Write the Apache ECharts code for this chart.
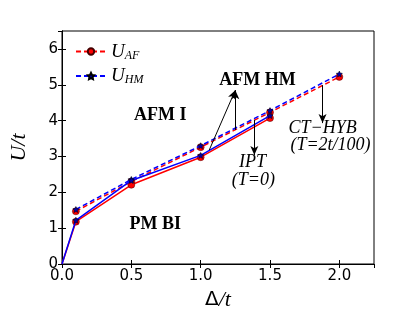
<!DOCTYPE html>
<html><head><meta charset="utf-8">
<script src="https://cdn.jsdelivr.net/npm/echarts@6/dist/echarts.min.js"></script>
<style>html,body{margin:0;padding:0;background:#fff}#c{width:415px;height:312px}</style>
</head><body><div id="c"></div>
<script>
const deltaIPT = [0, 0.1, 0.5, 1.0, 1.5];
const uAF_IPT = [0, 1.18, 2.21, 2.98, 4.07];
const uHM_IPT = [0, 1.22, 2.33, 3.03, 4.14];
const deltaCT = [0.1, 0.5, 1.0, 1.5, 2.0];
const uAF_CT = [1.47, 2.30, 3.26, 4.23, 5.22];
const uHM_CT = [1.52, 2.36, 3.30, 4.28, 5.30];
const xTicks = [0, 0.5, 1.0, 1.5, 2.0];
const yTicks = [0, 1, 2, 3, 4, 5, 6];

const STAR = 'path://M0,-10 L2.9,-4 9.5,-3.1 4.8,1.5 5.9,8.1 0,5 -5.9,8.1 -4.8,1.5 -9.5,-3.1 -2.9,-4 Z';
const zip = (xs, ys) => xs.map((x, i) => [x, ys[i]]);
const serif = 'Liberation Serif';

function label(text, x, y, bold, size) {
  return {
    coord: [x, y], symbolSize: 0,
    label: { show: true, position: 'inside', formatter: text, color: '#000',
      fontFamily: serif, fontSize: size || 17, fontWeight: bold ? 'bold' : 'normal',
      fontStyle: bold ? 'normal' : 'italic' }
  };
}
function arrow(x1, y1, x2, y2) { return [{ coord: [x1, y1] }, { coord: [x2, y2] }]; }

const chart = echarts.init(document.getElementById('c'));
const axisCommon = {
  axisLine: { lineStyle: { color: '#000', width: 1 } },
  axisTick: { inside: true, length: 4, lineStyle: { color: '#000' } },
  splitLine: { show: false }
};
chart.setOption({
  animation: false,
  grid: { left: 62, right: 41, top: 31, bottom: 48, show: true, borderColor: '#000', borderWidth: 1,
    containLabel: false, outerBoundsMode: 'none' },
  legend: {
    data: ['U_AF', 'U_HM'], orient: 'vertical', left: 70, top: 37,
    itemWidth: 30, itemHeight: 8, itemGap: 5,
    formatter: n => n === 'U_AF' ? '{u|U}{s|AF}' : '{u|U}{s|HM}',
    textStyle: { rich: {
      u: { fontFamily: serif, fontStyle: 'italic', fontSize: 19, color: '#000' },
      s: { fontFamily: serif, fontStyle: 'italic', fontSize: 12, color: '#000', verticalAlign: 'bottom', padding: [8, 0, 0, 0] }
    } }
  },
  xAxis: [
    Object.assign({ type: 'value', min: 0, max: 2.25, interval: 0.5, position: 'bottom',
      name: '{d|Δ}{t|/t}', nameLocation: 'middle', nameGap: 25,
      nameTextStyle: { rich: {
        d: { fontFamily: 'DejaVu Sans', fontSize: 20, color: '#000' },
        t: { fontFamily: serif, fontStyle: 'italic', fontSize: 22, color: '#000' } } },
      axisLabel: { showMaxLabel: false, margin: 5, color: '#000', fontFamily: 'DejaVu Sans', fontSize: 15,
        formatter: v => xTicks.includes(v) ? v.toFixed(1) : '' } }, axisCommon),
    Object.assign({ type: 'value', min: 0, max: 2.25, interval: 0.5, position: 'top', axisLabel: { show: false } }, axisCommon)
  ],
  yAxis: [
    Object.assign({ type: 'value', min: 0, max: 6.5, interval: 1, position: 'left',
      name: 'U/t', nameLocation: 'middle', nameGap: 32, nameRotate: 90,
      nameTextStyle: { fontFamily: serif, fontStyle: 'italic', fontSize: 22, color: '#000' },
      axisLabel: { showMaxLabel: false, margin: 4, color: '#000', fontFamily: 'DejaVu Sans', fontSize: 15,
        formatter: v => yTicks.includes(v) ? String(v) : '' } }, axisCommon),
    Object.assign({ type: 'value', min: 0, max: 6.5, interval: 1, position: 'right', axisLabel: { show: false } }, axisCommon)
  ],
  series: [
    { name: 'U_AF', type: 'line', data: zip(deltaCT, uAF_CT), symbol: 'circle', symbolSize: 7,
      lineStyle: { color: '#ff0000', width: 1.5, type: [5, 3] },
      itemStyle: { color: '#ff0000', borderColor: '#400', borderWidth: 0.5 }, z: 3 },
    { name: 'U_HM', type: 'line', data: zip(deltaCT, uHM_CT), symbol: STAR, symbolSize: 6,
      lineStyle: { color: '#0000ff', width: 1.5, type: [5, 3] },
      itemStyle: { color: '#0000aa', borderColor: '#000', borderWidth: 0.5 }, z: 4 },
    { name: 'U_AF', type: 'line', data: zip(deltaIPT, uAF_IPT), symbol: 'circle',
      symbolSize: (v) => v[0] === 0 ? 0 : 7,
      lineStyle: { color: '#ff0000', width: 1.5 },
      itemStyle: { color: '#ff0000', borderColor: '#400', borderWidth: 0.5 }, z: 3 },
    { name: 'U_HM', type: 'line', data: zip(deltaIPT, uHM_IPT), symbol: STAR,
      symbolSize: (v) => v[0] === 0 ? 0 : 6,
      lineStyle: { color: '#0000ff', width: 1.5 },
      itemStyle: { color: '#0000aa', borderColor: '#000', borderWidth: 0.5 }, z: 4 },
    { name: 'annot', type: 'line', data: [], z: 5,
      markLine: { silent: true, symbol: ['none', 'arrow'], symbolSize: [6, 9],
        lineStyle: { color: '#000', width: 1, type: 'solid' }, label: { show: false },
        data: [ arrow(1.25, 3.74, 1.25, 4.85), arrow(1.062, 3.18, 1.25, 4.85),
                arrow(1.387, 4.02, 1.387, 3.04), arrow(1.879, 4.99, 1.879, 3.93) ] },
      markPoint: { silent: true, symbol: 'circle', data: [
        label('AFM I', 0.708, 4.16, true, 18),
        label('AFM HM', 1.41, 5.13, true, 18),
        label('PM BI', 0.672, 1.12, true, 18),
        label('IPT', 1.373, 2.85, false, 18),
        label('(T=0)', 1.38, 2.34, false, 18),
        label('CT−HYB', 1.879, 3.79, false, 18),
        label('(T=2t/100)', 1.936, 3.32, false, 18)
      ] } }
  ]
});
</script></body></html>
